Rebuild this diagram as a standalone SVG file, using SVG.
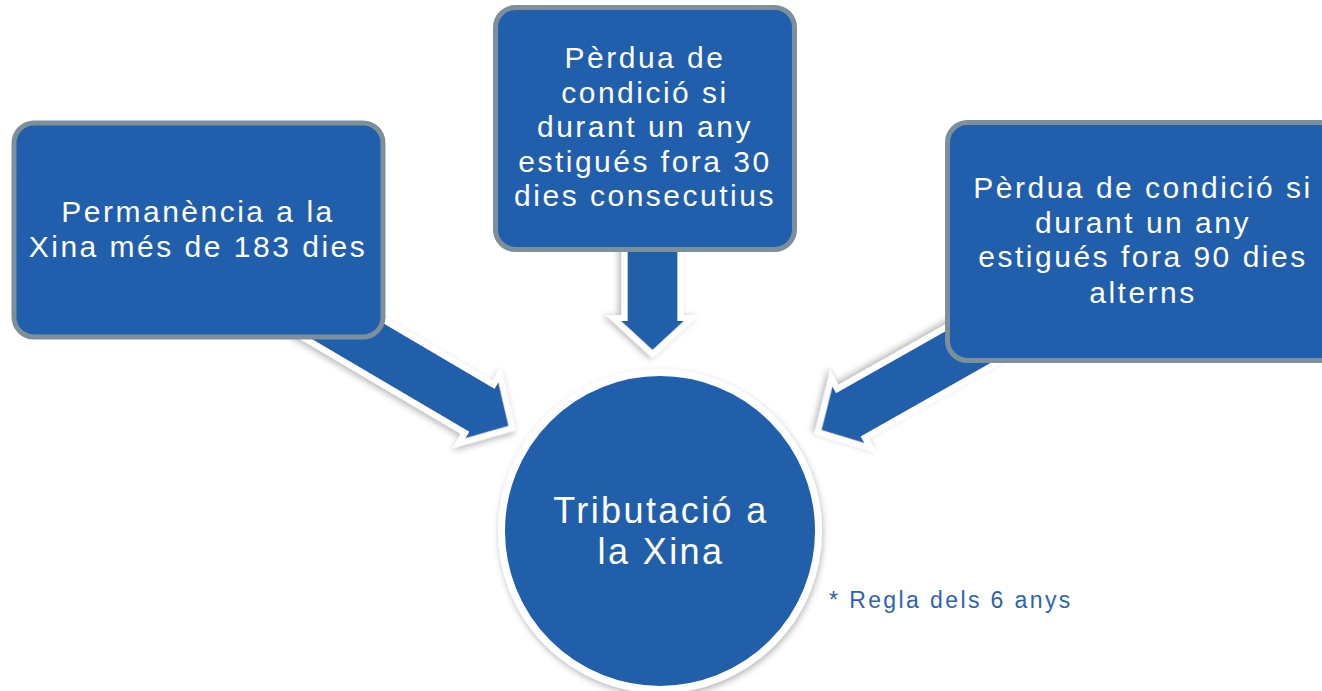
<svg xmlns="http://www.w3.org/2000/svg" width="1322" height="691" viewBox="0 0 1322 691">
<defs>
<filter id="sh" x="-20%" y="-20%" width="140%" height="140%">
<feDropShadow dx="1" dy="3" stdDeviation="3" flood-color="#000" flood-opacity="0.28"/>
</filter>
<style>
.arrow{fill:#215EAB;stroke:#fff;stroke-width:6;stroke-linejoin:miter;filter:url(#sh)}
.box{fill:#215EAB;stroke:#7C8F9B;stroke-width:5}
.t{font-family:"Liberation Sans",Arial,sans-serif;font-size:30px;fill:#fff;text-anchor:middle;letter-spacing:2.5px}
.tc{font-family:"Liberation Sans",Arial,sans-serif;font-size:36px;fill:#fff;text-anchor:middle;letter-spacing:2.4px}
.note{font-family:"Liberation Sans",Arial,sans-serif;font-size:23px;fill:#2E63B0;letter-spacing:2.4px}
</style>
</defs>
<rect width="1322" height="691" fill="#fff"/>
<g id="connectors">
<polygon class="arrow" transform="translate(652.5,354) rotate(90)" points="-112,-28 -36,-28 -36,-39 0,0 -36,39 -36,28 -112,28"/>
<polygon class="arrow" transform="translate(512,428) rotate(30.5)" points="-250,-28 -38,-28 -38,-40 0,0 -38,40 -38,28 -250,28"/>
<polygon class="arrow" transform="translate(818,432) rotate(150.5)" points="-230,-28 -38,-28 -38,-40 0,0 -38,40 -38,28 -230,28"/>
</g>
<g id="node-left">
<rect class="box" x="14" y="123" width="369" height="214" rx="20"/>
<text class="t" x="198" y="222">Permanència a la</text>
<text class="t" x="198" y="257">Xina més de 183 dies</text>
</g>
<g id="node-top">
<rect class="box" x="495.5" y="7.5" width="299" height="242" rx="20"/>
<text class="t" x="645" y="68">Pèrdua de</text>
<text class="t" x="645" y="103">condició si</text>
<text class="t" x="645" y="137">durant un any</text>
<text class="t" x="645" y="172">estigués fora 30</text>
<text class="t" x="645" y="206">dies consecutius</text>
</g>
<g id="node-right">
<rect class="box" x="947.5" y="122.5" width="392" height="238" rx="20"/>
<text class="t" x="1143" y="198">Pèrdua de condició si</text>
<text class="t" x="1143" y="233">durant un any</text>
<text class="t" x="1143" y="267">estigués fora 90 dies</text>
<text class="t" x="1143" y="303">alterns</text>
</g>
<g id="node-center">
<circle cx="660" cy="531" r="158.5" fill="#215EAB" stroke="#fff" stroke-width="7" filter="url(#sh)"/>
<text class="tc" x="661" y="523">Tributació a</text>
<text class="tc" x="661" y="564">la Xina</text>
</g>
<g id="note">
<text class="note" x="829" y="608">* Regla dels 6 anys</text>
</g>
</svg>
